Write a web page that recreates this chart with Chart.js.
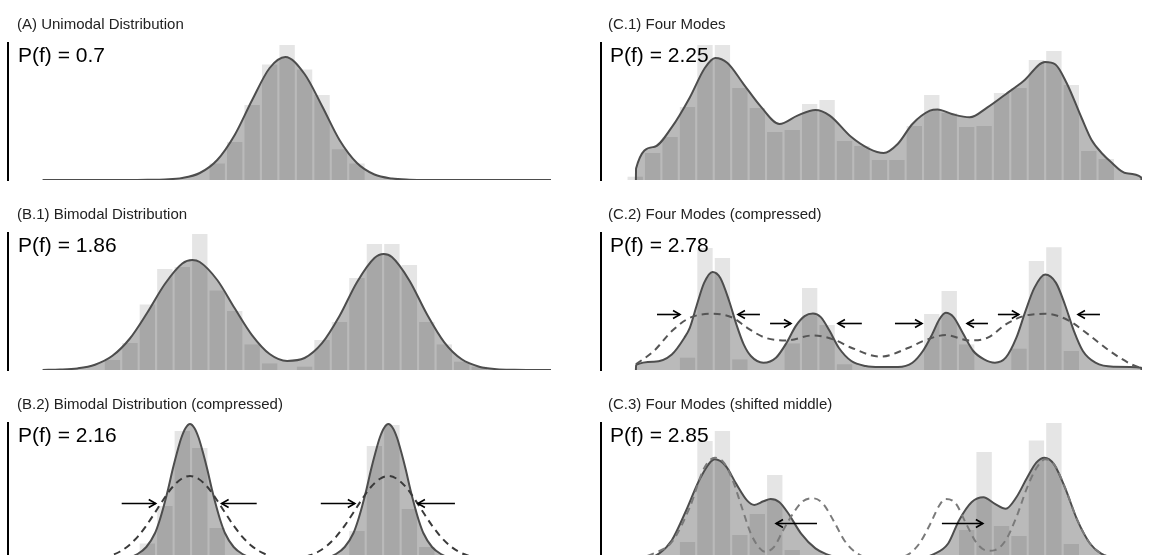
<!DOCTYPE html>
<html>
<head>
<meta charset="utf-8">
<script src="https://cdn.jsdelivr.net/npm/chart.js@4.4.1/dist/chart.umd.min.js"></script>
<style>
    html, body { margin: 0; padding: 0; background: #fff; width: 1163px; height: 555px; overflow: hidden; }
    .panel { position: absolute; width: 560px; height: 190px; }
    .panel canvas { position: absolute; left: 0; top: 0; }
    .title { position: absolute; top: 16px; font: 15px "Liberation Sans", Arial, sans-serif; line-height: 15px; color: #222; white-space: nowrap; }
    .pf { position: absolute; top: 44px; left: 18px; font: 21px "Liberation Sans", Arial, sans-serif; line-height: 21px; color: #000; white-space: nowrap; }
</style>
</head>
<body>
<div class="panel" style="left:0;top:0">
    <canvas id="pA" width="560" height="190"></canvas>
    <div class="title" style="left:17px">(A) Unimodal Distribution</div>
    <div class="pf">P(f) = 0.7</div>
</div>
<div class="panel" style="left:0;top:190px">
    <canvas id="pB1" width="560" height="190"></canvas>
    <div class="title" style="left:17px">(B.1) Bimodal Distribution</div>
    <div class="pf">P(f) = 1.86</div>
</div>
<div class="panel" style="left:0;top:380px">
    <canvas id="pB2" width="560" height="190"></canvas>
    <div class="title" style="left:17px">(B.2) Bimodal Distribution (compressed)</div>
    <div class="pf">P(f) = 2.16</div>
</div>
<div class="panel" style="left:592px;top:0">
    <canvas id="pC1" width="560" height="190"></canvas>
    <div class="title" style="left:16px">(C.1) Four Modes</div>
    <div class="pf">P(f) = 2.25</div>
</div>
<div class="panel" style="left:592px;top:190px">
    <canvas id="pC2" width="560" height="190"></canvas>
    <div class="title" style="left:16px">(C.2) Four Modes (compressed)</div>
    <div class="pf">P(f) = 2.78</div>
</div>
<div class="panel" style="left:592px;top:380px">
    <canvas id="pC3" width="560" height="190"></canvas>
    <div class="title" style="left:16px">(C.3) Four Modes (shifted middle)</div>
    <div class="pf">P(f) = 2.85</div>
</div>
<script>
// x values are in histogram-bin units, y values in density units (0 - 137)

// (A) unimodal
const aBarX = [10, 11, 12, 13, 14, 15, 16, 17, 18];
const aBarY = [16.5, 38, 75, 115.5, 135, 110.5, 85, 30.7, 16.5];
const aCurveX = [0, 5, 6, 7, 8, 9, 10, 11, 12, 13, 13.9, 15, 16, 17, 18, 19, 20, 21, 22, 29.11];
const aCurveY = [0, 0, 0.2, 0.6, 2, 7, 20, 45, 80, 112, 123, 106, 74, 40, 17, 5.5, 1.5, 0.3, 0, 0];

// (B.1) bimodal
const b1BarX = [4, 5, 6, 7, 8, 9, 10, 11, 12, 13, 14, 15, 16, 17, 18, 19, 20, 21, 22, 23, 24, 25];
const b1BarY = [10, 27, 65.5, 101, 103, 136, 79.5, 59, 25.6, 6.6, 0, 3.3, 30, 48, 92, 126, 126, 105, 48, 25.6, 8.3, 3.3];
const b1CurveX = [0, 1, 2, 3, 4, 5, 6, 7, 8, 8.57, 9, 10, 11, 12, 13, 14, 15, 16, 17, 18, 19, 19.53, 20, 21, 22, 23, 24, 25, 26, 27, 28, 29.11];
const b1CurveY = [0.1, 0.4, 1.6, 5.3, 14.2, 31.5, 57.5, 86, 106.5, 110, 108, 90, 61.7, 34.7, 16, 9.1, 12, 26.8, 54, 87.8, 112, 116, 113, 89.6, 56, 27.7, 10.7, 3.3, 0.8, 0.15, 0, 0];

// (B.2) bimodal, compressed
const b2BarX = [6, 7, 8, 9, 10, 18, 19, 20, 21, 22];
const b2BarY = [16.5, 54, 129, 112, 32, 29, 114, 135, 51, 13];
const b2CurveX = [0, 3.44, 4.44, 4.94, 5.44, 5.94, 6.44, 6.69, 6.94, 7.19, 7.44, 7.69, 7.94, 8.19, 8.44, 8.69, 8.94, 9.19, 9.44, 9.69,
    9.94, 10.19, 10.44, 10.94, 11.44, 11.94, 12.44, 13.44, 14.8, 15.8, 16.3, 16.8, 17.3, 17.8, 18.05, 18.3, 18.55, 18.8, 19.05, 19.3,
    19.55, 19.8, 20.05, 20.3, 20.55, 20.8, 21.05, 21.3, 21.55, 21.8, 22.3, 22.8, 23.3, 23.8, 24.8, 29.11];
const b2CurveY = [0, 0, 1, 2.5, 6, 13, 27, 39, 54, 71, 90, 107, 122, 132, 136, 132, 122, 107, 90, 71,
    54, 39, 27, 13, 6, 2.5, 1, 0, 0, 1, 2.5, 6, 13, 27, 39, 54, 71, 90, 107, 122,
    132, 136, 132, 122, 107, 90, 71, 54, 39, 27, 13, 6, 2.5, 1, 0, 0];
const b2DashX = [0, 2.44, 3.44, 3.94, 4.44, 4.94, 5.44, 5.94, 6.44, 6.94, 7.44, 7.94, 8.44, 8.94, 9.44, 9.94, 10.44, 10.94, 11.44, 11.94,
    12.44, 12.94, 13.44, 14.1, 14.8, 15.3, 15.8, 16.3, 16.8, 17.3, 17.8, 18.3, 18.8, 19.3, 19.8, 20.3, 20.8, 21.3, 21.8, 22.3,
    22.8, 23.3, 23.8, 24.3, 24.8, 25.8, 29.11];
const b2DashY = [0, 0.5, 2.4, 4.7, 8.5, 14.6, 23.2, 34.4, 47.5, 61, 73, 81, 84, 81, 73, 61, 47.5, 34.4, 23.2, 14.6,
    8.5, 4.7, 2.4, 1.5, 2.4, 4.7, 8.5, 14.6, 23.2, 34.4, 47.5, 61, 73, 81, 84, 81, 73, 61, 47.5, 34.4,
    23.2, 14.6, 8.5, 4.7, 2.4, 0.5, 0];
const b2Arrows = [[4.53, 6.48, 57], [12.26, 10.25, 57], [15.93, 17.88, 57], [23.61, 21.49, 57]];

// (C.1) four modes
const c1BarX = [0.41, 1.41, 2.41, 3.41, 4.41, 5.41, 6.41, 7.41, 8.41, 9.41, 10.41, 11.41, 12.41, 13.41,
    14.41, 15.41, 16.41, 17.41, 18.41, 19.41, 20.41, 21.41, 22.41, 23.41, 24.41, 25.41, 26.41, 27.41];
const c1BarY = [3.3, 27, 43, 73, 135, 135, 92, 72, 48, 50, 76, 80, 39, 34,
    20, 20, 54, 85, 67, 53, 54, 87, 92, 120, 129, 95, 29, 21];
const c1CurveX = [0.45, 0.46, 1.48, 2.51, 3.54, 4.4, 5.0, 5.7, 6.63, 7.65, 8.68, 9.71, 10.74, 11.56, 12.8, 13.8, 14.65, 15.47,
    16.3, 17.3, 17.74, 18.56, 19.59, 20.6, 21.65, 22.67, 23.9, 24.5, 25.14, 26.0, 26.57, 27.2, 27.62, 28.58, 29.42, 29.43];
const c1CurveY = [0, 11.6, 33, 52.8, 82.5, 112, 122, 117, 95.7, 72.6, 56, 64.4, 70, 64.4, 42.9, 31.4, 27, 36.3,
    56, 69.3, 70.6, 66, 62.7, 72.6, 85.8, 99, 118, 115.5, 97, 62, 40, 26, 19, 6.7, 2.5, 0];

// (C.2) four modes, compressed
const c2BarX = [3.41, 4.41, 5.41, 6.41, 9.41, 10.41, 11.41, 12.41, 17.41, 18.41, 19.41, 22.41, 23.41, 24.41, 25.41];
const c2BarY = [12.3, 122, 112, 10.6, 26.6, 82, 45, 5.7, 56, 79, 25.6, 21.3, 109, 122.7, 19];
const c2CurveX = [0.45, 0.46, 1.48, 2.51, 3.23, 3.54, 3.95, 4.36, 4.84, 5.29, 5.8, 6.21, 6.63, 7.04, 7.76, 8.48, 9.09, 9.61, 10.12, 10.6,
    11.05, 11.56, 12.08, 12.8, 13.62, 14.44, 15.47, 16.3, 16.9, 17.43, 17.84, 18.21, 18.66, 19.18, 19.79, 20.41, 21.03, 21.65, 22.26, 22.78,
    23.29, 23.91, 24.53, 25.04, 25.56, 26.07, 26.79, 27.82, 29.42, 29.43];
const c2CurveY = [0, 5, 8.3, 15.6, 32.3, 42.2, 65.5, 87.1, 98.1, 92.1, 68.8, 45.6, 25.6, 14, 7.3, 12.3, 27.3, 43.9, 53.9, 56.5,
    52.9, 38.9, 22.3, 9, 4, 3, 3, 7.3, 19, 35.6, 50.5, 57.2, 52.9, 37.2, 19, 10.6, 7.3, 12.3, 32.3, 58.9,
    82.1, 95.4, 87.1, 65.5, 38.9, 19, 7.3, 3.3, 2.3, 0];
const c2DashX = [0.45, 1.48, 2.51, 3.54, 4.88, 6.01, 6.83, 7.86, 9.09, 10.6, 11.77, 12.8, 14.44, 16.09, 16.91, 18.21, 19.59, 20.62,
    21.65, 22.67, 23.91, 25.14, 26.38, 27.61, 28.85, 29.42];
const c2DashY = [5.7, 19, 38.9, 52.2, 56.2, 52.2, 42.2, 32.3, 29.6, 34.6, 30.6, 22.3, 13.3, 22.3, 28.9, 34.9, 29.6, 32.3,
    45.6, 53.9, 56.2, 50.5, 35.6, 19, 5.7, 2];
const c2Arrows = [[1.66, 2.98, 56], [7.56, 6.3, 56], [8.14, 9.34, 47], [13.4, 12.03, 47],
    [15.3, 16.85, 47], [20.63, 19.43, 47], [21.2, 22.4, 56], [27.05, 25.79, 56]];

// (C.3) four modes, middle modes shifted outwards
const c3BarX = [3.41, 4.41, 5.41, 6.41, 7.41, 8.41, 9.41, 19.41, 20.41, 21.41, 22.41, 23.41, 24.41, 25.41];
const c3BarY = [18, 119, 129, 25, 46, 85, 10, 30, 108, 34, 24, 119.5, 137, 16];
const c3CurveX = [0.45, 0.46, 1.07, 1.79, 2.51, 3.33, 4.16, 4.98, 5.6, 6.21, 6.83, 7.24, 7.76, 8.17, 8.68, 9.2, 9.92, 10.74, 11.36, 12.39,
    16.5, 17.53, 18.35, 18.97, 19.69, 20.37, 21.03, 21.65, 22.26, 22.88, 23.4, 23.87, 24.42, 25.04, 25.76, 26.48, 27.1, 28.02, 29.42, 29.43];
const c3CurveY = [0, 0.6, 1.7, 6.6, 19.8, 49.5, 82.5, 100.7, 94, 75.9, 59.4, 55.1, 58.7, 61, 57.8, 46.2, 26.4, 11.6, 5.9, 1.7,
    1.7, 5.9, 16.5, 39.6, 57.8, 62.7, 56.1, 51.2, 62.7, 82.5, 97.4, 102.3, 95.7, 72.6, 39.6, 16.5, 6.6, 1.7, 0.5, 0];
const c3DashX = [0.45, 1.48, 2.51, 3.54, 4.36, 4.98, 5.49, 6.01, 6.52, 7.04, 7.55, 7.86, 8.37, 8.89, 9.51, 10.02, 10.6, 11.15, 11.77, 12.39,
    13.0, 14.03, 15.27, 16.09, 16.7, 17.33, 17.84, 18.21, 18.77, 19.38, 20.0, 20.62, 21.03, 21.65, 22.26, 22.88, 23.4, 23.91, 24.42, 25.04,
    25.76, 26.48, 27.1, 28.02, 29.42];
const c3DashY = [0.5, 6.6, 18, 52.8, 91.7, 102.3, 97.4, 79.2, 52.8, 26.4, 11.6, 8.3, 13.2, 29.7, 47.9, 58.7, 61.7, 56.8, 39.6, 19.8,
    8.3, 1.7, 1.7, 5.9, 16.5, 36.3, 54.5, 61, 56.8, 36.3, 16.5, 9.2, 9.9, 19.8, 42.9, 72.6, 91.7, 100.7, 95.7, 72.6,
    39.6, 16.5, 6.6, 1.7, 0.5];
const c3Arrows = [[10.83, 8.48, 37], [17.99, 20.34, 37]];

const Y_MAX = 137;

const panels = [
    { id: "pA", side: "left", barX: aBarX, barY: aBarY, curveX: aCurveX, curveY: aCurveY, arrows: [] },
    { id: "pB1", side: "left", barX: b1BarX, barY: b1BarY, curveX: b1CurveX, curveY: b1CurveY, arrows: [] },
    { id: "pB2", side: "left", barX: b2BarX, barY: b2BarY, curveX: b2CurveX, curveY: b2CurveY,
        dashX: b2DashX, dashY: b2DashY, dashColor: "#3a3a3a", arrows: b2Arrows },
    { id: "pC1", side: "right", barX: c1BarX, barY: c1BarY, curveX: c1CurveX, curveY: c1CurveY, arrows: [] },
    { id: "pC2", side: "right", barX: c2BarX, barY: c2BarY, curveX: c2CurveX, curveY: c2CurveY,
        dashX: c2DashX, dashY: c2DashY, dashColor: "#555555", arrows: c2Arrows },
    { id: "pC3", side: "right", barX: c3BarX, barY: c3BarY, curveX: c3CurveX, curveY: c3CurveY,
        dashX: c3DashX, dashY: c3DashY, dashColor: "#7a7a7a", arrows: c3Arrows }
];

function pts(xs, ys) {
    return xs.map((x, i) => ({ x: x, y: ys[i] }));
}

// horizontal arrows pointing at the modes
const arrowPlugin = {
    id: "arrows",
    afterDatasetsDraw(chart, args, opts) {
        const { ctx } = chart;
        const xs = chart.scales.x, ys = chart.scales.y;
        ctx.save();
        ctx.strokeStyle = "#000";
        ctx.lineWidth = 1.6;
        ctx.lineCap = "butt";
        (opts.list || []).forEach(a => {
            const x1 = xs.getPixelForValue(a[0]);
            const x2 = xs.getPixelForValue(a[1]);
            const y = Math.round(ys.getPixelForValue(a[2])) + 0.5;
            const dir = x2 > x1 ? 1 : -1;
            ctx.beginPath();
            ctx.moveTo(x1, y);
            ctx.lineTo(x2, y);
            ctx.stroke();
            ctx.beginPath();
            ctx.moveTo(x2 - dir * 7, y - 4);
            ctx.lineTo(x2, y);
            ctx.lineTo(x2 - dir * 7, y + 4);
            ctx.stroke();
        });
        ctx.restore();
    }
};

function drawPanel(p) {
    const left = p.side === "left";
    const datasets = [{
        type: "bar",
        data: pts(p.barX, p.barY),
        backgroundColor: "#e5e5e5",
        borderWidth: 0,
        barPercentage: 1,
        categoryPercentage: 0.88,
        order: 3
    }, {
        type: "line",
        data: pts(p.curveX, p.curveY),
        borderColor: "#4d4d4d",
        borderWidth: 2,
        backgroundColor: "rgba(0,0,0,0.27)",
        fill: "origin",
        pointRadius: 0,
        cubicInterpolationMode: "monotone",
        order: 2
    }];
    if (p.dashX) {
        datasets.push({
            type: "line",
            data: pts(p.dashX, p.dashY),
            borderColor: p.dashColor,
            borderWidth: 2,
            borderDash: [7, 5],
            fill: false,
            pointRadius: 0,
            cubicInterpolationMode: "monotone",
            order: 1
        });
    }

    new Chart(document.getElementById(p.id), {
        type: "bar",
        data: { datasets: datasets },
        plugins: [arrowPlugin],
        options: {
            responsive: false,
            animation: false,
            events: [],
            devicePixelRatio: 1,
            layout: { padding: { left: left ? 8 : 9, right: left ? 9 : 10, top: 43, bottom: 10 } },
            plugins: {
                legend: { display: false },
                tooltip: { enabled: false },
                arrows: { list: p.arrows }
            },
            scales: {
                x: {
                    type: "linear",
                    min: left ? -1.98 : -1.55,
                    max: left ? 29.11 : 29.46,
                    offset: false,
                    display: false
                },
                y: {
                    min: 0,
                    max: Y_MAX,
                    grid: { display: false, drawTicks: false },
                    ticks: { display: false },
                    border: { display: true, color: "#000", width: 2 }
                }
            }
        }
    });
}

panels.forEach(drawPanel);
</script>
</body>
</html>
